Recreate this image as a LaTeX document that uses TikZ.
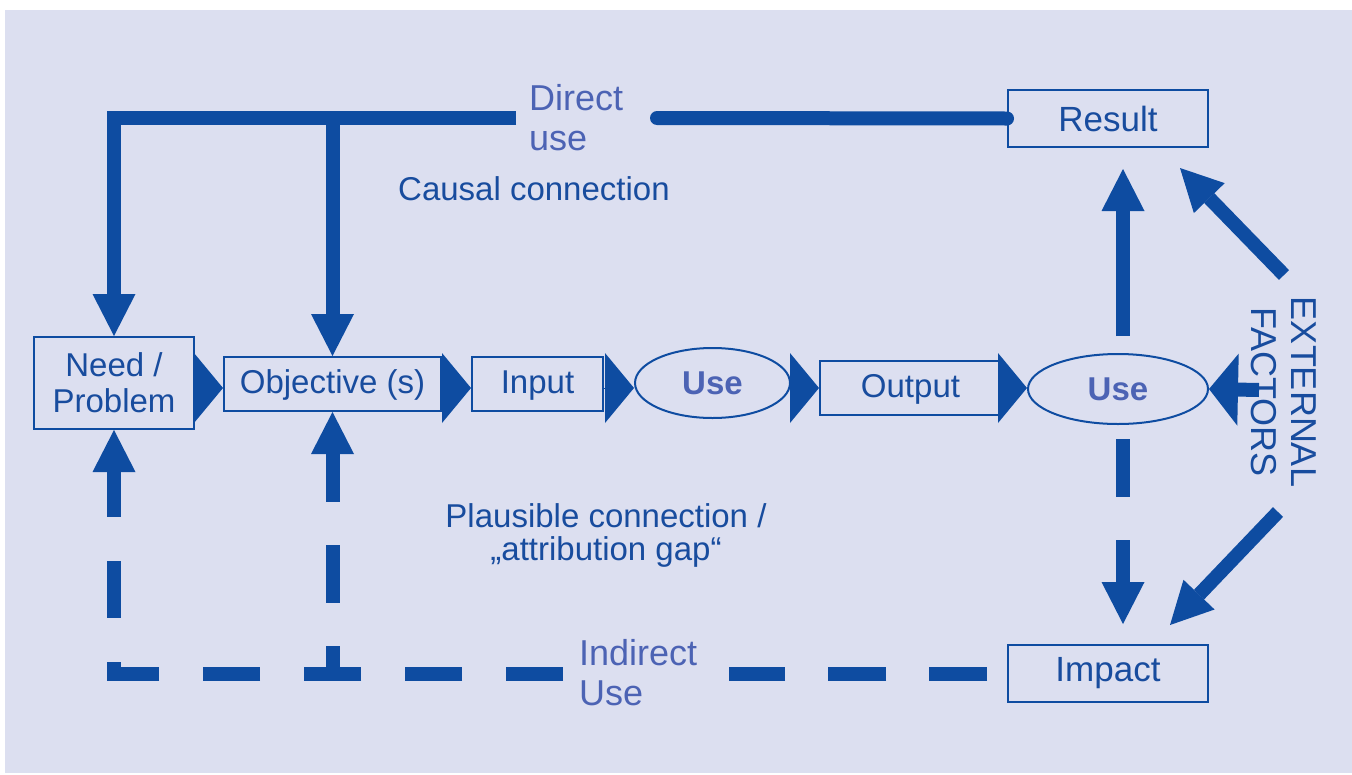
\documentclass[tikz,border=0pt]{standalone}
\usepackage{fontspec}
\setmainfont{Liberation Sans}
\usetikzlibrary{arrows.meta,shapes.geometric}
\definecolor{bgc}{RGB}{220,223,240}
\definecolor{fg}{RGB}{14,76,161}
\definecolor{txt}{RGB}{24,76,158}
\definecolor{lbl}{RGB}{76,99,180}
\newcommand{\fs}[2]{\fontsize{#1}{#2}\selectfont}
\begin{document}
\begin{tikzpicture}[x=1pt,y=-1pt,
  boxnode/.style={draw=fg, line width=2pt, inner sep=0pt, text=txt, align=center, font=\fs{33}{36}},
  bignode/.style={boxnode, font=\fs{35}{40}},
  usenode/.style={ellipse, draw=fg, line width=2pt, inner sep=0pt, text=lbl, font=\fs{33}{36}\bfseries},
  labeltxt/.style={inner sep=0pt, text=lbl, align=left, font=\fs{36}{40}},
  plaintxt/.style={inner sep=0pt, text=txt, font=\fs{33}{33}},
  heavy/.style={draw=fg, line width=14pt},
  bigtip/.style={-{Triangle[length=42pt,width=43pt,line width=0pt]}},
  gaptri/.style={draw=fg, fill=fg, line width=0.1pt, -{Triangle[length=29pt,width=70pt,line width=0pt]}},
  dashA/.style={dash pattern=on 58pt off 43pt}
]
\useasboundingbox (0,0) rectangle (1352,774);
\fill[bgc] (5,10) rectangle (1352,773);

% nodes
\node[boxnode, minimum width=160pt, minimum height=92pt] (need) at (114,383) {Need /\\Problem};
\node[boxnode, minimum width=217pt, minimum height=54pt, text depth=4pt] (obj) at (332.5,384) {Objective (s)};
\node[boxnode, minimum width=131pt, minimum height=54pt, text depth=4pt] (input) at (537.5,384) {Input};
\node[usenode, minimum width=155pt, minimum height=70pt] (use1) at (712.5,383) {Use};
\node[boxnode, minimum width=181pt, minimum height=54pt, text depth=4pt] (output) at (910.5,388) {Output};
\node[usenode, minimum width=180pt, minimum height=70pt] (use2) at (1118,389) {Use};
\node[bignode, minimum width=200pt, minimum height=57pt] (result) at (1108,118.5) {Result};
\node[bignode, minimum width=200pt, minimum height=57pt] (impact) at (1108,673.5) {Impact};

\node[labeltxt, anchor=base west] (direct) at (529,150) {Direct\\use};
\node[labeltxt, anchor=base west] (indirect) at (579,705) {Indirect\\Use};
\node[plaintxt, anchor=base west] (causal) at (398,200) {Causal connection};
\node[plaintxt, anchor=base, align=center] (plaus) at (606,560) {Plausible connection /\\„attribution gap“};
\node[inner sep=0pt, text=txt, align=center, font=\fs{36}{40}, rotate=-90] (ext) at (1284,392) {EXTERNAL\\FACTORS};

% helper coordinates
\coordinate (dl) at (516,118);
\coordinate (dr) at (657,118);
\coordinate (iR) at (729,673.5);
\coordinate (iL) at (563,673.5);
\coordinate (extin) at (1259,390);
\coordinate (e1) at (1284,275);
\coordinate (e1t) at (1180,168);
\coordinate (e2) at (1278,512);
\coordinate (e2t) at (1170,625);

% flow triangles
\draw[gaptri] (need.east |- 0,388) -- (obj.west |- 0,388);
\draw[gaptri] (obj.east |- 0,388) -- (input.west |- 0,388);
\draw[gaptri] (input.east |- 0,388) -- (use1.west |- 0,388);
\draw[gaptri] (use1.east |- 0,388) -- (output.west |- 0,388);
\draw[gaptri] (output.east |- 0,388) -- (use2.west |- 0,388);

% direct use
\draw[heavy, line cap=round] (result.west) -- (dr);
\draw[heavy, bigtip] (dl) -| (need.north);
\draw[heavy, bigtip] (obj.north |- dl) -- (obj.north);

% use -> result / impact
\draw[heavy, bigtip] ([xshift=5pt,yshift=17pt]use2.north) -- ([xshift=15pt,yshift=-21pt]result.south);
\draw[heavy, bigtip, dashA] ([xshift=5pt,yshift=-14pt]use2.south) -- ([xshift=15pt,yshift=20pt]impact.north);

% external factors
\draw[heavy, -{Triangle[length=29pt,width=72pt,line width=0pt]}] (extin) -- (use2.east);
\draw[heavy, bigtip] (e1) -- (e1t);
\draw[heavy, bigtip] (e2) -- (e2t);

% indirect use
\draw[heavy, dashA, dash phase=81pt] (impact.west) -- (iR);
\draw[heavy, bigtip, dash pattern=on 57pt off 44pt] (iL) -| (need.south);
\draw[heavy, bigtip, dashA, dash phase=30pt] (obj.south |- iL) -- (obj.south);
\end{tikzpicture}
\end{document}
